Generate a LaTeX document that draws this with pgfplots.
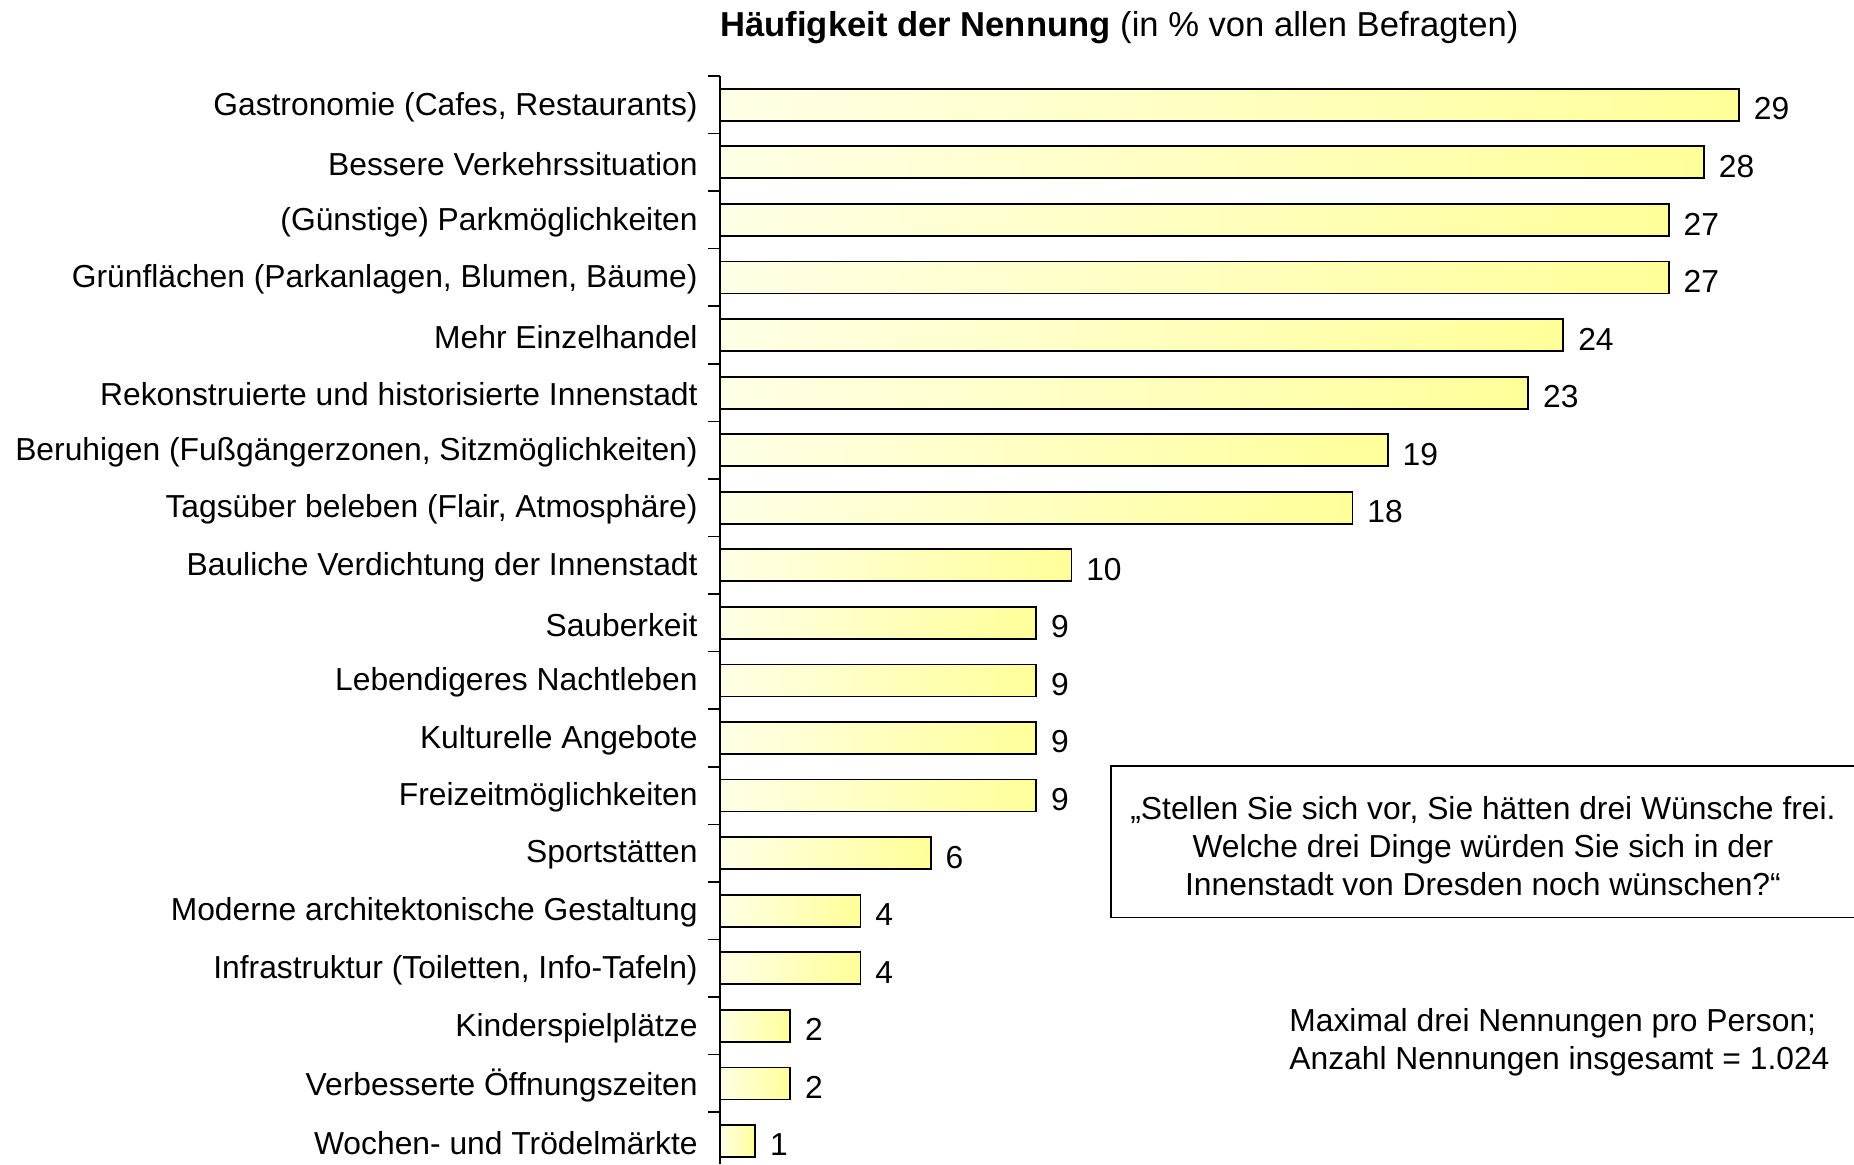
\documentclass[border=0pt]{standalone}
\usepackage{pgfplots}
\pgfplotsset{compat=1.18}
\usepackage{fontspec}
\setmainfont{Liberation Sans}
\definecolor{barL}{HTML}{FFFFE6}
\definecolor{barR}{HTML}{FFFF99}
\newcommand{\fs}{\fontsize{15.9}{19}\selectfont}
\pgfplotsset{mybar/.style={xbar, bar shift=0pt, bar width=16pt, draw=black, line width=0.9pt, left color=barL, right color=barR}}
\begin{document}
\begin{tikzpicture}
\begin{axis}[
  at={(0,0)}, anchor=south west,
  scale only axis,
  width=567pt, height=544pt,
  xmin=0, xmax=32.27,
  ymin=-0.40, ymax=18.5,
  hide x axis,
  axis y line*=left,
  y axis line style={line width=0.8pt, -},
  ytick={0,...,18},
  yticklabels={Wochen- und Trödelmärkte,Verbesserte Öffnungszeiten,Kinderspielplätze,{Infrastruktur (Toiletten, Info-Tafeln)},Moderne architektonische Gestaltung,Sportstätten,Freizeitmöglichkeiten,Kulturelle Angebote,Lebendigeres Nachtleben,Sauberkeit,Bauliche Verdichtung der Innenstadt,{Tagsüber beleben (Flair, Atmosphäre)},{Beruhigen (Fußgängerzonen, Sitzmöglichkeiten)},Rekonstruierte und historisierte Innenstadt,Mehr Einzelhandel,{Grünflächen (Parkanlagen, Blumen, Bäume)},(Günstige) Parkmöglichkeiten,Bessere Verkehrssituation,{Gastronomie (Cafes, Restaurants)}},
  yticklabel style={font=\fs, anchor=east, inner sep=0pt, xshift=-11pt, yshift=-1pt},
  minor ytick={-0.5,0.5,...,18.5},
  major tick length=0pt,
  minor tick length=6pt,
  tick align=outside,
  minor tick style={line width=0.8pt, black},
  /pgf/number format/assume math mode=true,
  point meta=x,
  nodes near coords,
  every node near coord/.append style={font=\fs, anchor=west, inner sep=0pt, xshift=7pt, yshift=-2pt},
  clip=false,
]
\addplot[mybar] coordinates {(1,0)};
\addplot[mybar] coordinates {(2,1)};
\addplot[mybar] coordinates {(2,2)};
\addplot[mybar] coordinates {(4,3)};
\addplot[mybar] coordinates {(4,4)};
\addplot[mybar] coordinates {(6,5)};
\addplot[mybar] coordinates {(9,6)};
\addplot[mybar] coordinates {(9,7)};
\addplot[mybar] coordinates {(9,8)};
\addplot[mybar] coordinates {(9,9)};
\addplot[mybar] coordinates {(10,10)};
\addplot[mybar] coordinates {(18,11)};
\addplot[mybar] coordinates {(19,12)};
\addplot[mybar] coordinates {(23,13)};
\addplot[mybar] coordinates {(24,14)};
\addplot[mybar] coordinates {(27,15)};
\addplot[mybar] coordinates {(27,16)};
\addplot[mybar] coordinates {(28,17)};
\addplot[mybar] coordinates {(29,18)};
\end{axis}
\node[anchor=west, inner sep=0pt, font=\fontsize{17.3}{20}\selectfont] at (0,568pt) {\textbf{Häufigkeit der Nennung} (in \% von allen Befragten)};
\draw[line width=0.8pt] (568pt,199pt) -- (195.5pt,199pt) -- (195.5pt,123.25pt) -- (568pt,123.25pt);
\node[align=center, inner sep=0pt, font=\fs] at (381.5pt,159pt) {„Stellen Sie sich vor, Sie hätten drei Wünsche frei.\\Welche drei Dinge würden Sie sich in der\\Innenstadt von Dresden noch wünschen?“};
\node[anchor=west, align=left, inner sep=0pt, font=\fs] at (284.5pt,61pt) {Maximal drei Nennungen pro Person;\\Anzahl Nennungen insgesamt = 1.024};
\pgfresetboundingbox
\useasboundingbox (-360pt,0) rectangle (567pt,582pt);
\end{tikzpicture}
\end{document}
